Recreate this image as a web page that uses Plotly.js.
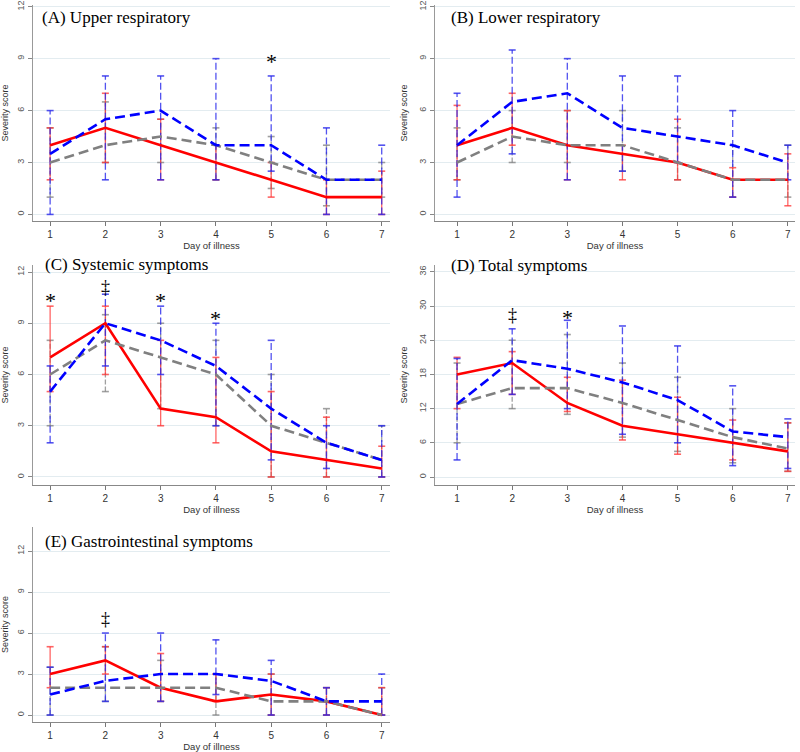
<!DOCTYPE html>
<html>
<head>
<meta charset="utf-8">
<script src="https://cdn.plot.ly/plotly-3.0.1.min.js"></script>
<style>
  html, body { margin: 0; padding: 0; background: #fff; }
  #chart { width: 800px; height: 752px; }
</style>
</head>
<body>
<div id="chart"></div>
<script>
// ---------------------------------------------------------------------------
// Symptom severity by day of illness, median with IQR bars, three groups
// ---------------------------------------------------------------------------
const days = [1, 2, 3, 4, 5, 6, 7];

// (A) Upper respiratory
const aRed = [4, 5, 4, 3, 2, 1, 1];
const aRedLo = [2, 3, 2, 2, 1, 0, 0];
const aRedHi = [5, 7, 5.5, 4, 3, 2, 2.5];
const aBlue = [3.5, 5.5, 6, 4, 4, 2, 2];
const aBlueLo = [0, 2, 2, 2, 2.5, 0, 0];
const aBlueHi = [6, 8, 8, 9, 8, 5, 4];
const aGray = [3, 4, 4.5, 4, 3, 2, 2];
const aGrayLo = [1, 3, 3, 2, 1.5, 0.5, 1];
const aGrayHi = [5, 6.5, 5.5, 5, 4.5, 4, 3];

// (B) Lower respiratory
const bRed = [4, 5, 4, 3.5, 3, 2, 2];
const bRedLo = [2, 4, 2, 2, 2, 1, 0.5];
const bRedHi = [6.3, 7, 6, 4, 5.5, 2.7, 3.5];
const bBlue = [4, 6.5, 7, 5, 4.5, 4, 3];
const bBlueLo = [1, 3.5, 2, 2.5, 3, 1, 2];
const bBlueHi = [7, 9.5, 9, 8, 8, 6, 4];
const bGray = [3, 4.5, 4, 4, 3, 2, 2];
const bGrayLo = [2, 3, 3, 2.5, 2, 1, 1];
const bGrayHi = [5, 6, 6, 6, 5, 4, 4];

// (C) Systemic symptoms
const cRed = [7, 9, 4, 3.5, 1.5, 1, 0.5];
const cRedLo = [5, 6, 3, 2, 0, 0, 0];
const cRedHi = [10, 10, 8, 7, 5, 3.5, 1.8];
const cBlue = [5, 9, 8, 6.5, 4, 2, 1];
const cBlueLo = [2, 6.5, 6, 3, 1, 0.5, 0];
const cBlueHi = [6.5, 10.7, 10, 9, 8, 3, 3];
const cGray = [6, 8, 7, 6, 3, 2, 1];
const cGrayLo = [3, 5, 4, 3, 0, 0, 0];
const cGrayHi = [8, 9.5, 9, 8, 6, 4, 3];

// (D) Total symptoms
const dRed = [18, 20, 13, 9, 7.5, 6, 4.5];
const dRedLo = [12, 14.5, 11.5, 6.5, 4, 3, 1];
const dRedHi = [21, 22, 17.5, 17, 14, 10, 9.5];
const dBlue = [12.8, 20.5, 19, 16.6, 13.5, 8, 7];
const dBlueLo = [3, 14.5, 12, 7.5, 6, 2, 1.5];
const dBlueHi = [20.8, 26, 27.5, 26.5, 23, 16, 10.2];
const dGray = [12.8, 15.6, 15.6, 13, 10, 7, 5];
const dGrayLo = [6, 12, 11, 7, 4.5, 2.5, 1];
const dGrayHi = [20, 24, 25, 20, 17.5, 12, 9.5];

// (E) Gastrointestinal symptoms
const eRed = [3, 4, 2, 1, 1.5, 1, 0];
const eRedLo = [2, 3, 1, 1, 0, 0, 0];
const eRedHi = [5, 5, 4.5, 3, 3, 2, 2];
const eBlue = [1.5, 2.5, 3, 3, 2.5, 1, 1];
const eBlueLo = [0, 1, 1, 1.5, 0, 0, 0];
const eBlueHi = [3.5, 6, 6, 5.5, 4, 2, 3];
const eGray = [2, 2, 2, 2, 1, 1, 0];
const eGrayLo = [0, 1, 1, 0, 0, 0, 0];
const eGrayHi = [3.5, 5, 4, 3, 3, 2, 2];

// significance marks: [panel, day, value, symbol]
const marks = [
    ['A', 5, 9.1, '*'],
    ['C', 1, 10.6, '*'], ['C', 2, 11.1, '‡'], ['C', 3, 10.6, '*'], ['C', 4, 9.6, '*'],
    ['D', 2, 28.4, '‡'], ['D', 3, 28.9, '*'],
    ['E', 2, 7.0, '‡']
];

const W = 800, H = 752;
const px = x => x / W;
const py = y => 1 - y / H;

const style = {
    red:  { line: '#ff0000', err: 'rgba(255,50,50,0.75)',  dash: 'solid',     errDash: 'solid' },
    gray: { line: '#808080', err: 'rgba(120,120,120,0.7)', dash: '10px,5px',  errDash: '5px,2px' },
    blue: { line: '#0000ff', err: 'rgba(40,40,235,0.8)',   dash: '10px,5px',  errDash: '7px,3px' }
};

const panels = [
    { id: 'A', n: '',  title: '(A) Upper respiratory', red: [aRed, aRedLo, aRedHi], gray: [aGray, aGrayLo, aGrayHi], blue: [aBlue, aBlueLo, aBlueHi],
      xd: [33, 390], xr: [0.69, 7.15], yd: [221, 5], yr: [-0.38, 12.1], ticks: [0, 3, 6, 9, 12], tx: 40, ty: 18 },
    { id: 'B', n: '2', title: '(B) Lower respiratory', red: [bRed, bRedLo, bRedHi], gray: [bGray, bGrayLo, bGrayHi], blue: [bBlue, bBlueLo, bBlueHi],
      xd: [435, 795], xr: [0.6, 7.13], yd: [221, 5], yr: [-0.38, 12.1], ticks: [0, 3, 6, 9, 12], tx: 449, ty: 18 },
    { id: 'C', n: '3', title: '(C) Systemic symptoms', red: [cRed, cRedLo, cRedHi], gray: [cGray, cGrayLo, cGrayHi], blue: [cBlue, cBlueLo, cBlueHi],
      xd: [33, 390], xr: [0.69, 7.15], yd: [485, 265], yr: [-0.47, 12.41], ticks: [0, 3, 6, 9, 12], tx: 43, ty: 264 },
    { id: 'D', n: '4', title: '(D) Total symptoms', red: [dRed, dRedLo, dRedHi], gray: [dGray, dGrayLo, dGrayHi], blue: [dBlue, dBlueLo, dBlueHi],
      xd: [435, 795], xr: [0.6, 7.13], yd: [485, 265], yr: [-1.4, 37.2], ticks: [0, 6, 12, 18, 24, 30, 36], tx: 449, ty: 265 },
    { id: 'E', n: '5', title: '(E) Gastrointestinal symptoms', red: [eRed, eRedLo, eRedHi], gray: [eGray, eGrayLo, eGrayHi], blue: [eBlue, eBlueLo, eBlueHi],
      xd: [33, 390], xr: [0.69, 7.15], yd: [722, 527], yr: [-0.51, 13.76], ticks: [0, 3, 6, 9, 12], tx: 43, ty: 541 }
];

function errTrace(lo, hi, s, xa, ya) {
    const x = [], y = [];
    days.forEach((d, i) => { x.push(d, d, null); y.push(lo[i], hi[i], null); });
    return {
        x, y, xaxis: xa, yaxis: ya, type: 'scatter', mode: 'lines+markers',
        line: { color: s.err, width: 1.3, dash: s.errDash },
        marker: { symbol: 'line-ew-open', size: 5, line: { color: s.err, width: 1.6 } },
        hoverinfo: 'skip', showlegend: false
    };
}

function lineTrace(vals, s, xa, ya) {
    return {
        x: days, y: vals, xaxis: xa, yaxis: ya, type: 'scatter', mode: 'lines',
        line: { color: s.line, width: 2.6, dash: s.dash },
        showlegend: false
    };
}

const data = [];
const layout = {
    width: W, height: H, autosize: false,
    margin: { l: 0, r: 0, t: 0, b: 0 },
    paper_bgcolor: '#fff', plot_bgcolor: '#fff',
    font: { family: 'Liberation Sans, Arial, sans-serif', color: '#444' },
    showlegend: false,
    annotations: []
};

panels.forEach(p => {
    const xa = 'x' + p.n, ya = 'y' + p.n;
    ['gray', 'red', 'blue'].forEach(k => data.push(errTrace(p[k][1], p[k][2], style[k], xa, ya)));
    ['red', 'gray', 'blue'].forEach(k => data.push(lineTrace(p[k][0], style[k], xa, ya)));

    layout['xaxis' + p.n] = {
        domain: [px(p.xd[0]), px(p.xd[1])], range: p.xr, anchor: ya,
        tickvals: days, ticks: 'outside', ticklen: 4, tickcolor: '#777',
        showline: true, linecolor: '#888', linewidth: 1, showgrid: false, zeroline: false,
        tickfont: { size: 10, color: '#333' },
        title: { text: 'Day of illness', font: { size: 9.5, color: '#333' }, standoff: 2 }
    };
    layout['yaxis' + p.n] = {
        domain: [py(p.yd[0]), py(p.yd[1])], range: p.yr, anchor: xa,
        tickvals: p.ticks, ticks: 'outside', ticklen: 4, tickcolor: '#888', tickangle: -90,
        showline: true, linecolor: '#999', linewidth: 1, zeroline: false,
        showgrid: true, gridcolor: '#e3ecf0', gridwidth: 1,
        tickfont: { size: 9, color: '#555' },
        title: { text: 'Severity score', font: { size: 9, color: '#333' } }
    };

    layout.annotations.push({
        xref: 'paper', yref: 'paper', x: px(p.tx), y: py(p.ty),
        xanchor: 'left', yanchor: 'middle', showarrow: false,
        text: p.title, font: { family: 'Liberation Serif, Times New Roman, serif', size: 17, color: '#000' }
    });
});

marks.forEach(([id, day, val, sym]) => {
    const p = panels.find(q => q.id === id);
    layout.annotations.push({
        xref: 'x' + p.n, yref: 'y' + p.n, x: day, y: val,
        xanchor: 'center', yanchor: 'middle', showarrow: false,
        text: sym,
        font: { family: 'Liberation Serif, Times New Roman, serif', size: sym === '*' ? 22 : 18, color: '#000' },
        yshift: sym === '*' ? -5 : 0
    });
});

Plotly.newPlot('chart', data, layout, { displayModeBar: false, staticPlot: true });
</script>
</body>
</html>
